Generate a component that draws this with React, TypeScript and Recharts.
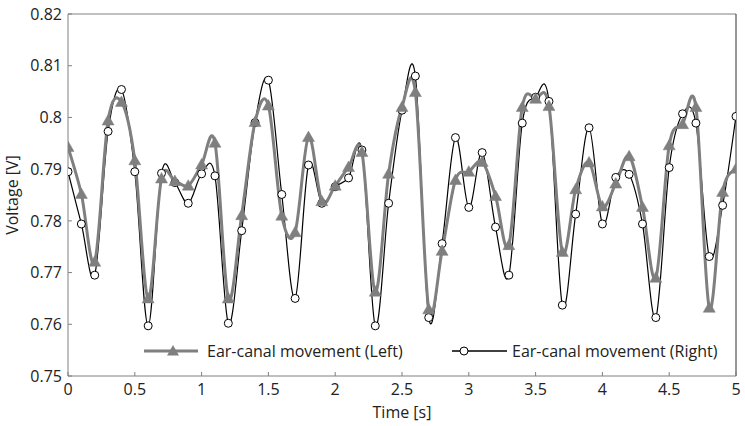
import React from 'react';
import { LineChart, Line, XAxis, YAxis, ReferenceLine } from 'recharts';

const times = [0, 0.1, 0.2, 0.3, 0.4, 0.5, 0.6, 0.7, 0.8, 0.9, 1, 1.1, 1.2, 1.3, 1.4, 1.5, 1.6, 1.7, 1.8, 1.9, 2, 2.1, 2.2, 2.3, 2.4, 2.5, 2.6, 2.7, 2.8, 2.9, 3, 3.1, 3.2, 3.3, 3.4, 3.5, 3.6, 3.7, 3.8, 3.9, 4, 4.1, 4.2, 4.3, 4.4, 4.5, 4.6, 4.7, 4.8, 4.9, 5];

const leftValues = [0.7943, 0.7852, 0.7721, 0.7994, 0.8030, 0.7917, 0.7650, 0.7882, 0.7877, 0.7868,
  0.7909, 0.7951, 0.7650, 0.7811, 0.7991, 0.8023, 0.7810, 0.7778, 0.7962, 0.7838,
  0.7868, 0.7904, 0.7933, 0.7663, 0.7891, 0.8020, 0.8049, 0.7629, 0.7742, 0.7879,
  0.7895, 0.7914, 0.7848, 0.7753, 0.8020, 0.8036, 0.8022, 0.7740, 0.7861, 0.7913,
  0.7828, 0.7872, 0.7925, 0.7827, 0.7690, 0.7946, 0.7987, 0.8020, 0.7632, 0.7856, 0.7901];

const rightValues = [0.7895, 0.7794, 0.7695, 0.7973, 0.8054, 0.7895, 0.7597, 0.7892, 0.7874, 0.7834,
  0.7891, 0.7887, 0.7602, 0.7781, 0.7990, 0.8072, 0.7851, 0.7650, 0.7908, 0.7834,
  0.7866, 0.7883, 0.7937, 0.7597, 0.7834, 0.8014, 0.8080, 0.7613, 0.7756, 0.7961,
  0.7826, 0.7932, 0.7788, 0.7695, 0.7989, 0.8039, 0.8031, 0.7637, 0.7813, 0.7980,
  0.7794, 0.7884, 0.7890, 0.7794, 0.7613, 0.7903, 0.8007, 0.7989, 0.7731, 0.7830, 0.8002];

const xTicks = [0, 0.5, 1, 1.5, 2, 2.5, 3, 3.5, 4, 4.5, 5];
const yTicks = [0.75, 0.76, 0.77, 0.78, 0.79, 0.8, 0.81, 0.82];

const leftName = 'Ear-canal movement (Left)';
const rightName = 'Ear-canal movement (Right)';

const data = times.map((t, i) => ({ t, left: leftValues[i], right: rightValues[i] }));

const GRAY = '#7f7f7f';
const FONT = '"Open Sans", sans-serif';

// Smooth curve (Catmull-Rom style Bezier, like spreadsheet smoothing)
function smoothCurve(context: any) {
  let pts: number[][] = [];
  return {
    areaStart() {},
    areaEnd() {},
    lineStart() { pts = []; },
    point(x: number, y: number) { pts.push([+x, +y]); },
    lineEnd() {
      const n = pts.length;
      if (!n) return;
      context.moveTo(pts[0][0], pts[0][1]);
      const k = 1 / 6;
      for (let i = 0; i < n - 1; i++) {
        const p0 = pts[i - 1] || pts[i];
        const p1 = pts[i];
        const p2 = pts[i + 1];
        const p3 = pts[i + 2] || p2;
        context.bezierCurveTo(
          p1[0] + (p2[0] - p0[0]) * k, p1[1] + (p2[1] - p0[1]) * k,
          p2[0] - (p3[0] - p1[0]) * k, p2[1] - (p3[1] - p1[1]) * k,
          p2[0], p2[1]
        );
      }
    },
  };
}

const TriangleDot = (props: any) => {
  const { cx, cy, index } = props;
  if (cx == null || cy == null) return <g key={index} />;
  return (
    <polygon
      key={index}
      points={`${cx},${cy - 6} ${cx - 6},${cy + 4.5} ${cx + 6},${cy + 4.5}`}
      fill={GRAY}
      stroke={GRAY}
      strokeWidth={0.5}
    />
  );
};

const LegendOverlay = () => (
  <svg width={745} height={30} style={{ position: 'absolute', left: 0, top: 336, display: 'block' }}>
    <line x1={144} x2={198} y1={15} y2={15} stroke={GRAY} strokeWidth={3} />
    <polygon points={`173,9 167,19.5 179,19.5`} fill={GRAY} />
    <text x={207} y={15} dominantBaseline="central" fontFamily={FONT} fontSize={16} fill="#222">{leftName}</text>
    <line x1={452} x2={507} y1={15} y2={15} stroke="#000" strokeWidth={1.3} />
    <circle cx={464} cy={15} r={4} fill="#fff" stroke="#000" strokeWidth={1} />
    <text x={512} y={15} dominantBaseline="central" fontFamily={FONT} fontSize={16} fill="#222">{rightName}</text>
  </svg>
);

export default function App() {
  return (
    <div style={{ position: 'absolute', left: 0, top: 0, width: 745, height: 426, background: '#fff' }}>
      <LineChart width={745} height={426} data={data} margin={{ top: 14, right: 9, bottom: 0, left: 0 }}>
        <XAxis
          dataKey="t"
          type="number"
          domain={[0, 5]}
          ticks={xTicks}
          allowDataOverflow
          height={50}
          stroke="#808080"
          tickSize={-4}
          tickMargin={12}
          tick={{ fill: '#222', fontSize: 16, fontFamily: FONT }}
          label={{ value: 'Time [s]', position: 'center', dy: 11, fill: '#222', fontSize: 16, fontFamily: FONT }}
        />
        <YAxis
          type="number"
          domain={[0.75, 0.82]}
          ticks={yTicks}
          allowDataOverflow
          width={68}
          stroke="#808080"
          tickSize={-4}
          tickMargin={10}
          tick={{ fill: '#222', fontSize: 16, fontFamily: FONT }}
          label={{ value: 'Voltage [V]', angle: -90, position: 'center', dx: -22, fill: '#222', fontSize: 16, fontFamily: FONT }}
        />
        <ReferenceLine y={0.82} stroke="#808080" strokeWidth={1} />
        <ReferenceLine x={5} stroke="#303030" strokeWidth={1} />
        <Line
          dataKey="right"
          name={rightName}
          type={smoothCurve as any}
          stroke="#000"
          strokeWidth={1.2}
          dot={{ r: 4, fill: '#fff', stroke: '#000', strokeWidth: 1 }}
          activeDot={false}
          isAnimationActive={false}
        />
        <Line
          dataKey="left"
          name={leftName}
          type={smoothCurve as any}
          stroke={GRAY}
          strokeWidth={3}
          dot={<TriangleDot />}
          activeDot={false}
          isAnimationActive={false}
        />
      </LineChart>
      <LegendOverlay />
    </div>
  );
}
